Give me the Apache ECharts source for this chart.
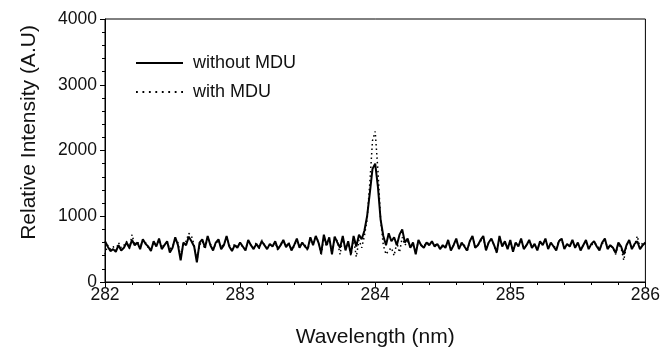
<!DOCTYPE html>
<html>
<head>
<meta charset="utf-8">
<script src="https://cdn.jsdelivr.net/npm/echarts@6/dist/echarts.min.js"></script>
<style>html,body{margin:0;padding:0;background:#fff}#c{width:663px;height:353px}</style>
</head>
<body>
<div id="c"></div>
<script>
// Wavelength grid: 282.00 .. 286.00 nm in 0.02 nm steps (201 points)
var wavelengths = [];
for (var i = 0; i <= 200; i++) wavelengths.push(+(282 + i * 0.02).toFixed(2));

var withoutMDU = [
  620, 540, 470, 500, 460, 560, 480, 520, 600, 520,
  640, 560, 600, 500, 650, 580, 540, 470, 620, 540,
  660, 500, 560, 620, 450, 520, 680, 560, 330, 600,
  560, 690, 620, 540, 300, 600, 650, 520, 700, 560,
  480, 600, 650, 500, 560, 700, 540, 470, 560, 520,
  600, 540, 480, 640, 560, 500, 580, 520, 620, 560,
  500, 580, 540, 620, 500, 560, 640, 530, 590, 480,
  560, 660, 520, 600, 540, 500, 680, 560, 700, 600,
  440, 720, 560, 680, 420, 690, 600, 520, 700, 480,
  620, 420, 700, 540, 720, 650, 780, 1000, 1350, 1720,
  1800, 1450, 950, 700, 560, 740, 620, 680, 560, 720,
  800, 600, 660, 520, 600, 420, 640, 560, 520, 600,
  560, 620, 540, 580, 500, 560, 520, 640, 480, 560,
  660, 500, 600, 540, 480, 620, 700, 520, 560, 640,
  700, 480, 600, 660, 560, 450, 700, 540, 620, 500,
  640, 460, 600, 540, 660, 500, 560, 640, 520, 580,
  480, 620, 560, 660, 500, 600, 540, 480, 620, 660,
  500, 580, 540, 640, 520, 600, 480, 560, 640, 500,
  580, 620, 540, 480, 600, 660, 500, 560, 520, 440,
  600, 540, 420, 560, 640, 500, 580, 620, 500, 560,
  600
];

var withMDU = [
  420, 560, 500, 540, 480, 600, 520, 560, 620, 500,
  720, 560, 620, 520, 640, 600, 520, 500, 600, 560,
  640, 520, 580, 600, 500, 540, 640, 600, 380, 560,
  620, 740, 700, 560, 330, 560, 620, 500, 680, 580,
  500, 580, 640, 520, 580, 680, 560, 500, 580, 540,
  600, 520, 500, 620, 560, 520, 600, 500, 640, 560,
  520, 560, 560, 600, 480, 580, 620, 550, 600, 500,
  540, 640, 540, 580, 560, 480, 660, 600, 680, 620,
  400, 700, 540, 660, 440, 680, 620, 420, 680, 500,
  600, 400, 660, 380, 640, 520, 700, 950, 1500, 2150,
  2290, 1700, 950, 560, 420, 480, 520, 400, 600, 450,
  680, 560, 620, 540, 560, 460, 620, 560, 540, 600,
  580, 600, 560, 580, 520, 540, 540, 620, 500, 560,
  640, 520, 580, 560, 460, 620, 680, 540, 560, 620,
  680, 500, 600, 640, 560, 440, 680, 560, 600, 520,
  620, 480, 600, 560, 640, 520, 560, 620, 540, 560,
  500, 600, 560, 640, 520, 580, 560, 500, 640, 640,
  520, 560, 560, 620, 540, 580, 500, 560, 620, 520,
  560, 600, 560, 500, 580, 640, 520, 560, 520, 420,
  580, 520, 330, 560, 620, 520, 560, 700, 520, 600,
  580
];

var xTicks = [282, 283, 284, 285, 286];
var yTicks = [0, 1000, 2000, 3000, 4000];
var seriesNames = ['without MDU', 'with MDU'];

function pairs(vals) {
  return wavelengths.map(function (w, i) { return [w, vals[i]]; });
}

// legend glyphs: a solid bar and a row of dots
var solidIcon = 'path://M0,0H47V2H0Z';
var dotIcon = 'path://' + [0, 1, 2, 3, 4, 5, 6, 7].map(function (k) {
  var x = k * 6.4; return 'M' + x + ',0h1.8v1.8h-1.8z';
}).join(' ');

var font = 'Liberation Sans, Arial, sans-serif';
var chart = echarts.init(document.getElementById('c'));
chart.setOption({
  animation: false,
  backgroundColor: '#fff',
  grid: { left: 105, right: 14, top: 19, bottom: 64, show: true, borderColor: '#000', borderWidth: 1, containLabel: false },
  legend: {
    orient: 'vertical', left: 131, top: 49, itemGap: 11, itemWidth: 47, itemHeight: 20,
    textStyle: { fontFamily: font, fontSize: 18, color: '#111', padding: [0, 0, 0, 5] },
    data: [
      { name: seriesNames[0], icon: solidIcon, itemStyle: { color: '#000' } },
      { name: seriesNames[1], icon: dotIcon, itemStyle: { color: '#000' } }
    ]
  },
  xAxis: {
    type: 'value', min: xTicks[0], max: xTicks[xTicks.length - 1], interval: 1,
    name: 'Wavelength (nm)', nameLocation: 'middle', nameGap: 45,
    nameTextStyle: { fontFamily: font, fontSize: 21, color: '#111' },
    axisLine: { show: true, lineStyle: { color: '#000', width: 1 } },
    axisTick: { show: true, length: 5, inside: false, lineStyle: { color: '#000' } },
    minorTick: { show: true, splitNumber: 5, length: 3, lineStyle: { color: '#000' } },
    axisLabel: { fontFamily: font, fontSize: 17.5, color: '#111', margin: 4, formatter: function (v) { return String(v); } },
    splitLine: { show: false }
  },
  yAxis: {
    type: 'value', min: yTicks[0], max: yTicks[yTicks.length - 1], interval: 1000,
    name: 'Relative Intensity (A.U)', nameLocation: 'middle', nameGap: 65,
    nameTextStyle: { fontFamily: font, fontSize: 21, color: '#111', padding: [0, 0, 0, 36] },
    axisLine: { show: true, lineStyle: { color: '#000', width: 1 } },
    axisTick: { show: true, length: 5, lineStyle: { color: '#000' } },
    minorTick: { show: true, splitNumber: 5, length: 3, lineStyle: { color: '#000' } },
    axisLabel: { fontFamily: font, fontSize: 17.5, color: '#111', margin: 8, formatter: function (v) { return String(v); } },
    splitLine: { show: false }
  },
  series: [
    {
      name: seriesNames[1], type: 'line', data: pairs(withMDU), showSymbol: false, symbol: 'none',
      lineStyle: { color: '#000', width: 1.5, type: [1.5, 3] }, itemStyle: { color: '#000' }, z: 2
    },
    {
      name: seriesNames[0], type: 'line', data: pairs(withoutMDU), showSymbol: false, symbol: 'none',
      lineStyle: { color: '#000', width: 2 }, itemStyle: { color: '#000' }, z: 3
    }
  ]
});
</script>
</body>
</html>
